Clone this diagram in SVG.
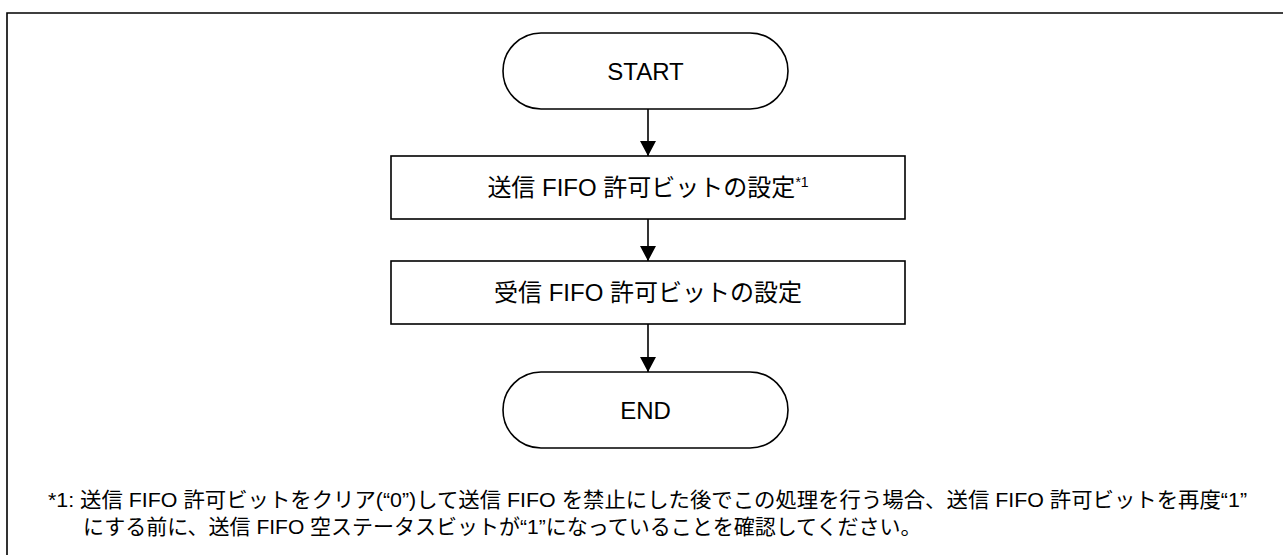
<svg xmlns="http://www.w3.org/2000/svg" width="1283" height="555" viewBox="0 0 1283 555">
<style>
.shape{fill:#fff;stroke:#000;stroke-width:1.6}
.lbl{font-family:"Liberation Sans","Noto Sans CJK JP",sans-serif;font-size:24px;fill:#000;text-anchor:middle}
.note{font-family:"Liberation Sans","Noto Sans CJK JP",sans-serif;font-size:21px;fill:#000}
.conn{stroke:#000;stroke-width:1.6;fill:none}
</style>
<defs>
<marker id="arr" markerUnits="userSpaceOnUse" markerWidth="16" markerHeight="16" refX="15" refY="8" orient="auto">
<path d="M0,0 L15,8 L0,16 Z" fill="#000"/>
</marker>
</defs>
<rect width="1283" height="555" fill="#fff"/>
<path d="M1283,13 H7 V555" fill="none" stroke="#000" stroke-width="1.6"/>
<g id="connectors">
<line class="conn" x1="648" y1="109" x2="648" y2="156" marker-end="url(#arr)"/>
<line class="conn" x1="648" y1="219" x2="648" y2="261" marker-end="url(#arr)"/>
<line class="conn" x1="648" y1="324" x2="648" y2="372" marker-end="url(#arr)"/>
</g>
<g id="start">
<rect class="shape" x="503" y="33" width="285" height="76" rx="38" ry="38"/>
<text class="lbl" x="645.5" y="79.5">START</text>
</g>
<g id="step1">
<rect class="shape" x="391" y="156" width="514" height="63"/>
<text class="lbl" x="648" y="196">送信 FIFO 許可ビットの設定<tspan font-size="14" dy="-9">*1</tspan></text>
</g>
<g id="step2">
<rect class="shape" x="391" y="261" width="514" height="63"/>
<text class="lbl" x="648" y="301">受信 FIFO 許可ビットの設定</text>
</g>
<g id="end">
<rect class="shape" x="503" y="372" width="285" height="76" rx="38" ry="38"/>
<text class="lbl" x="645.5" y="418.5">END</text>
</g>
<g id="footnote">
<text class="note" x="48" y="507" textLength="1199" lengthAdjust="spacingAndGlyphs">*1: 送信 FIFO 許可ビットをクリア(“0”)して送信 FIFO を禁止にした後でこの処理を行う場合、送信 FIFO 許可ビットを再度“1”</text>
<text class="note" x="83" y="534">にする前に、送信 FIFO 空ステータスビットが“1”になっていることを確認してください。</text>
</g>
</svg>
